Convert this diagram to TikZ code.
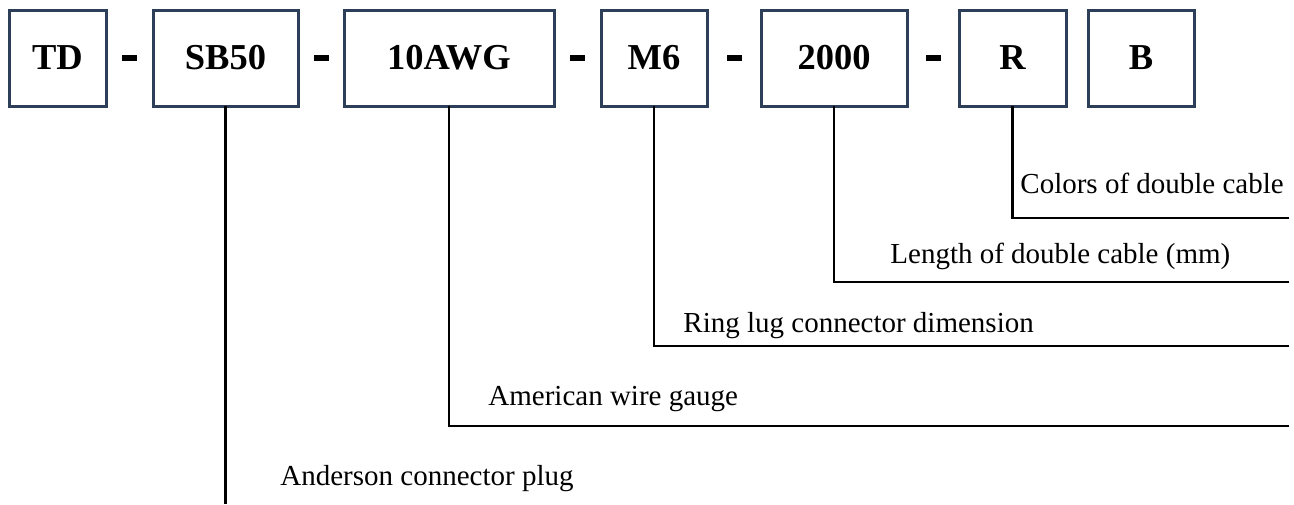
\documentclass[tikz,border=0pt]{standalone}
\usepackage{fontspec}
\setmainfont{Liberation Serif}
\usetikzlibrary{positioning, calc}
\definecolor{boxblue}{RGB}{44,62,88}

\tikzset{
  code/.style={draw=boxblue, line width=1.5pt, minimum height=48pt, inner sep=0pt, outer sep=0pt,
    font=\fontsize{18.25}{22}\selectfont\bfseries},
  lead/.style={line width=1.1pt},
  note/.style={anchor=base west, inner sep=0pt, font=\fontsize{14.5}{17}\selectfont},
}

\begin{document}
\begin{tikzpicture}[x=0.5pt, y=-0.5pt]
    \useasboundingbox (0,0) rectangle (1294,504);
    % part number boxes
    \node[code, minimum width=48.5pt] at (57.5,58) (td) {TD};
    \node[code, minimum width=72.5pt, right=23.5pt of td] (sb) {SB50};
    \node[code, minimum width=105pt, right=23pt of sb] (awg) {10AWG};
    \node[code, minimum width=53pt, right=23.5pt of awg] (mm) {M6};
    \node[code, minimum width=73pt, right=27pt of mm] (len) {2000};
    \node[code, minimum width=53.5pt, right=26pt of len] (red) {R};
    \node[code, minimum width=53pt, right=11pt of red] (blk) {B};
    % hyphens between boxes
    \foreach \a/\b in {td/sb, sb/awg, awg/mm, mm/len, len/red}
        \fill ($(\a.east)!0.5!(\b.west)$) ++(-7.5,-3) rectangle ++(15,6);
    % free ends of the leaders
    \coordinate (endR) at (1289,218);
    \coordinate (endLen) at (1289,282);
    \coordinate (endM) at (1289,346);
    \coordinate (endAwg) at (1289,426);
    \coordinate (endSb) at (225.5,504);
    \draw[lead] (red.south) |- (endR);
    \draw[lead] (len.south) |- (endLen);
    \draw[lead] (mm.south) |- (endM);
    \draw[lead] (awg.south) |- (endAwg);
    \draw[lead] (sb.south) -- (endSb);
    % descriptions
    \node[note] at (1020,193) (colors) {Colors of double cable};
    \node[note] at (890,263) (length) {Length of double cable (mm)};
    \node[note] at (683,332) (ring) {Ring lug connector dimension};
    \node[note] at (488,405) (gauge) {American wire gauge};
    \node[note] at (280,485) (plug) {Anderson connector plug};
\end{tikzpicture}
\end{document}
